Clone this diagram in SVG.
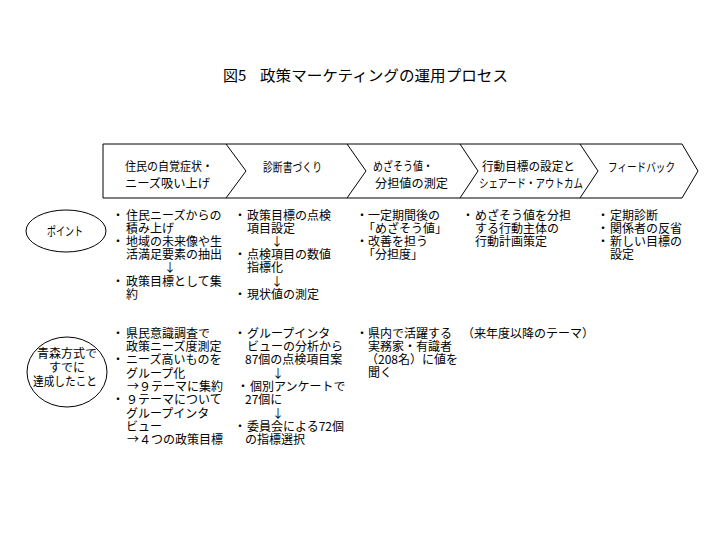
<svg xmlns="http://www.w3.org/2000/svg" width="720" height="540" viewBox="0 0 720 540">
<style>
text{font-family:"Noto Sans CJK JP","Noto Sans CJK SC",sans-serif;font-size:12px;fill:#000}
.title{font-size:15px}
.m{text-anchor:middle}
.shape{fill:#fff;stroke:#000;stroke-width:1}
.div{fill:none;stroke:#000;stroke-width:1}
</style>
<rect width="720" height="540" fill="#fff"/>
<g id="title">
<text class="title" x="223" y="81">図5<tspan x="260" textLength="248" lengthAdjust="spacingAndGlyphs">政策マーケティングの運用プロセス</tspan></text>
</g>
<g id="header">
<path class="shape" d="M103,144 L682,144 L698,171 L682,198 L103,198 Z"/>
<path class="div" d="M226,144 L246,171 L226,198 M347,144 L366,171 L347,198 M460,144 L478,171 L460,198 M580,144 L598,171 L580,198"/>
<text><tspan x="125" y="171" textLength="88" lengthAdjust="spacingAndGlyphs">住民の自覚症状・</tspan><tspan x="125" y="188" textLength="85" lengthAdjust="spacingAndGlyphs">ニーズ吸い上げ</tspan></text>
<text x="263" y="172" textLength="59" lengthAdjust="spacingAndGlyphs">診断書づくり</text>
<text><tspan x="373" y="171" textLength="60" lengthAdjust="spacingAndGlyphs">めざそう値・</tspan><tspan x="375" y="188" textLength="73" lengthAdjust="spacingAndGlyphs">分担値の測定</tspan></text>
<text><tspan x="482" y="171" textLength="93" lengthAdjust="spacingAndGlyphs">行動目標の設定と</tspan><tspan x="479" y="188" textLength="104" lengthAdjust="spacingAndGlyphs">シェアード・アウトカム</tspan></text>
<text x="608" y="172" textLength="67" lengthAdjust="spacingAndGlyphs">フィードバック</text>
</g>
<g id="point">
<ellipse class="shape" cx="66" cy="231" rx="40" ry="21"/>
<text class="m" x="65" y="236" textLength="36" lengthAdjust="spacingAndGlyphs">ポイント</text>
</g>
<g id="achieved">
<ellipse class="shape" cx="67" cy="372" rx="40" ry="35"/>
<text><tspan x="37" y="358">青森方式で</tspan><tspan x="49" y="372">すでに</tspan><tspan x="33" y="386" textLength="64" lengthAdjust="spacingAndGlyphs">達成したこと</tspan></text>
</g>
<g id="row1-col1">
<text><tspan x="112" y="220">・</tspan><tspan x="126" y="220">住民ニーズからの</tspan><tspan x="126" y="233">積み上げ</tspan><tspan x="112" y="246">・</tspan><tspan x="126" y="246">地域の未来像や生</tspan><tspan x="126" y="259">活満足要素の抽出</tspan><tspan x="164" y="272">↓</tspan><tspan x="112" y="286">・</tspan><tspan x="126" y="286">政策目標として集</tspan><tspan x="126" y="299">約</tspan></text>
</g>
<g id="row1-col2">
<text><tspan x="234" y="220">・</tspan><tspan x="247" y="220">政策目標の点検</tspan><tspan x="247" y="233">項目設定</tspan><tspan x="271" y="246">↓</tspan><tspan x="234" y="259">・</tspan><tspan x="247" y="259">点検項目の数値</tspan><tspan x="247" y="272">指標化</tspan><tspan x="271" y="286">↓</tspan><tspan x="234" y="299">・</tspan><tspan x="247" y="299">現状値の測定</tspan></text>
</g>
<g id="row1-col3">
<text><tspan x="356" y="220">・</tspan><tspan x="368" y="220">一定期間後の</tspan><tspan x="363" y="233">「めざそう値」</tspan><tspan x="356" y="246">・</tspan><tspan x="368" y="246">改善を担う</tspan><tspan x="363" y="259">「分担度」</tspan></text>
</g>
<g id="row1-col4">
<text><tspan x="462" y="220">・</tspan><tspan x="475" y="220">めざそう値を分担</tspan><tspan x="475" y="233">する行動主体の</tspan><tspan x="475" y="246">行動計画策定</tspan></text>
</g>
<g id="row1-col5">
<text><tspan x="597" y="220">・</tspan><tspan x="610" y="220">定期診断</tspan><tspan x="597" y="233">・</tspan><tspan x="610" y="233">関係者の反省</tspan><tspan x="597" y="246">・</tspan><tspan x="610" y="246">新しい目標の</tspan><tspan x="610" y="259">設定</tspan></text>
</g>
<g id="row2-col1">
<text><tspan x="112" y="338">・</tspan><tspan x="126" y="338">県民意識調査で</tspan><tspan x="126" y="351">政策ニーズ度測定</tspan><tspan x="112" y="364">・</tspan><tspan x="126" y="364">ニーズ高いものを</tspan><tspan x="126" y="378">グループ化</tspan><tspan x="127" y="391">→９テーマに集約</tspan><tspan x="112" y="404">・</tspan><tspan x="126" y="404">９テーマについて</tspan><tspan x="126" y="418">グループインタ</tspan><tspan x="126" y="431">ビュー</tspan><tspan x="127" y="444">→４つの政策目標</tspan></text>
</g>
<g id="row2-col2">
<text><tspan x="234" y="338">・</tspan><tspan x="247" y="338">グループインタ</tspan><tspan x="247" y="351">ビューの分析から</tspan><tspan x="245" y="364">87個の点検項目案</tspan><tspan x="272" y="378">↓</tspan><tspan x="237" y="391">・</tspan><tspan x="250" y="391">個別アンケートで</tspan><tspan x="245" y="404">27個に</tspan><tspan x="272" y="418">↓</tspan><tspan x="234" y="431">・</tspan><tspan x="247" y="431">委員会による72個</tspan><tspan x="245" y="444">の指標選択</tspan></text>
</g>
<g id="row2-col3">
<text><tspan x="356" y="338">・</tspan><tspan x="368" y="338">県内で活躍する</tspan><tspan x="368" y="351">実務家・有識者</tspan><tspan x="366" y="364">（208名）に値を</tspan><tspan x="368" y="377">聞く</tspan></text>
</g>
<g id="row2-col4">
<text x="462" y="338">（来年度以降のテーマ）</text>
</g>
</svg>
